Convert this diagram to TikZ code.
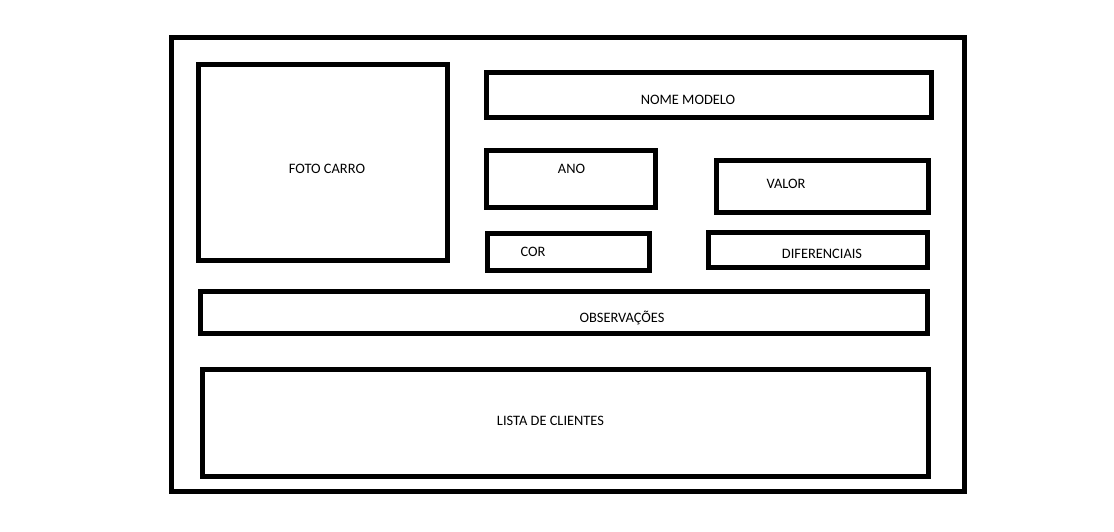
\documentclass[tikz,border=0pt]{standalone}
\usepackage{fontspec}
\setmainfont{Carlito}
\usetikzlibrary{calc,positioning}
\tikzset{
	box/.style={line width=5pt,black},
	lbl/.style={anchor=base,inner sep=0pt,font=\fontsize{14.4}{17}\selectfont}
}

\begin{document}
\begin{tikzpicture}[x=1pt,y=-1pt]
	\useasboundingbox (0,0) rectangle (1114,532);
	% Points
	\coordinate (outerTL) at (171,38);     \coordinate (outerBR) at (964,491.5);
	\coordinate (fotoTL) at (198.5,64.5);  \coordinate (fotoBR) at (447.5,260);
	\coordinate (nomeTL) at (486,72.5);    \coordinate (nomeBR) at (931.5,118);
	\coordinate (anoTL) at (486.5,151);    \coordinate (anoBR) at (655,207.5);
	\coordinate (valorTL) at (716,161);    \coordinate (valorBR) at (928.5,212.5);
	\coordinate (corTL) at (487.5,233.5);  \coordinate (corBR) at (649,270.5);
	\coordinate (difTL) at (708.5,232.5);  \coordinate (difBR) at (927.5,267.5);
	\coordinate (obsTL) at (200,291);      \coordinate (obsBR) at (927.5,333);
	\coordinate (listaTL) at (202,369.5);  \coordinate (listaBR) at (928,476.5);

	% Boxes
	\draw[box] (outerTL) rectangle (outerBR);
	\draw[box] (fotoTL) rectangle (fotoBR);
	\draw[box] (nomeTL) rectangle (nomeBR);
	\draw[box] (anoTL) rectangle (anoBR);
	\draw[box] (valorTL) rectangle (valorBR);
	\draw[box] (corTL) rectangle (corBR);
	\draw[box] (difTL) rectangle (difBR);
	\draw[box] (obsTL) rectangle (obsBR);
	\draw[box] (listaTL) rectangle (listaBR);

	% Labels
	\node[lbl] (foto) at (327,174) {FOTO CARRO};
	\node[lbl] (nome) at (688,105) {NOME MODELO};
	\node[lbl] (ano) at (571.5,174) {ANO};
	\node[lbl] (valor) at (786,188) {VALOR};
	\node[lbl] (cor) at (533,256.5) {COR};
	\node[lbl] (dif) at (822,258) {DIFERENCIAIS};
	\node[lbl] (obs) at (622,322.5) {OBSERVAÇÕES};
	\node[lbl] (lista) at (550.5,425) {LISTA DE CLIENTES};
\end{tikzpicture}
\end{document}
